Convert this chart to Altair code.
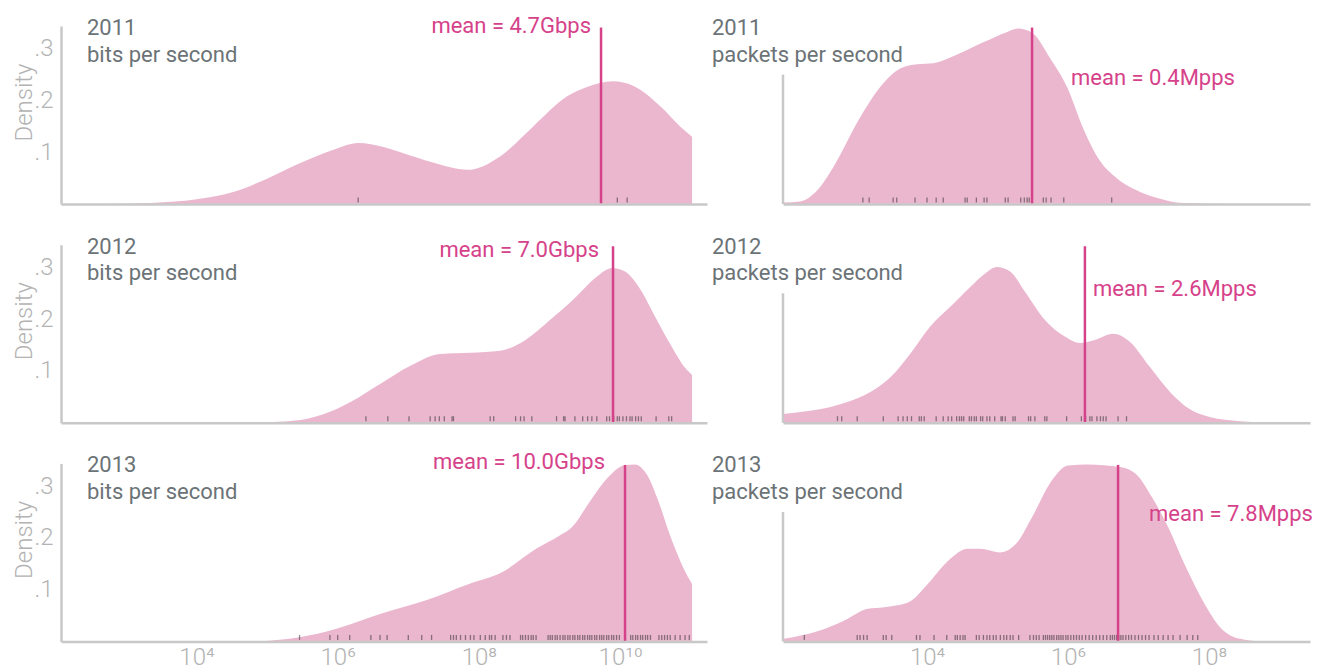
import altair as alt
import pandas as pd

# ---------------- data (x = log10 of rate, d = density) ----------------
years = ["2011", "2012", "2013"]
metric_names = ["bits per second", "packets per second"]
mean_text = [["mean = 4.7Gbps", "mean = 0.4Mpps"],
             ["mean = 7.0Gbps", "mean = 2.6Mpps"],
             ["mean = 10.0Gbps", "mean = 7.8Mpps"]]
mean_log = [[9.73, 5.49], [9.90, 6.24], [10.07, 6.71]]

bps2011_log = [2.64, 3.35, 4.05, 4.52, 5.00, 5.47, 5.94, 6.29, 6.65, 6.89, 7.35, 7.84, 8.30, 8.77, 9.25, 9.53, 9.90, 10.19, 10.57, 10.85, 11.02]
bps2011_dens = [0.000, 0.002, 0.010, 0.023, 0.049, 0.079, 0.105, 0.118, 0.110, 0.100, 0.080, 0.066, 0.092, 0.150, 0.208, 0.226, 0.237, 0.228, 0.189, 0.150, 0.130]

pps2011_log = [1.96, 2.20, 2.44, 2.67, 3.05, 3.33, 3.62, 3.86, 4.09, 4.33, 4.79, 5.13, 5.29, 5.50, 5.74, 5.99, 6.21, 6.45, 6.70, 6.92, 7.40, 7.63, 8.50]
pps2011_dens = [0.003, 0.005, 0.026, 0.071, 0.167, 0.225, 0.262, 0.270, 0.272, 0.283, 0.312, 0.332, 0.339, 0.330, 0.283, 0.225, 0.148, 0.084, 0.049, 0.030, 0.007, 0.002, 0.000]

bps2012_log = [4.64, 5.04, 5.47, 5.89, 6.18, 6.60, 7.03, 7.45, 7.88, 8.30, 8.66, 9.01, 9.36, 9.65, 9.89, 10.07, 10.29, 10.50, 10.71, 10.92, 11.02]
bps2012_dens = [0.000, 0.001, 0.005, 0.021, 0.040, 0.075, 0.110, 0.133, 0.135, 0.139, 0.160, 0.199, 0.241, 0.280, 0.299, 0.292, 0.257, 0.204, 0.152, 0.106, 0.092]

pps2012_log = [1.96, 2.34, 2.62, 2.87, 3.19, 3.48, 3.76, 4.04, 4.33, 4.61, 4.82, 4.99, 5.18, 5.39, 5.67, 5.96, 6.17, 6.38, 6.64, 6.88, 7.16, 7.45, 7.73, 8.01, 8.44, 8.87]
pps2012_dens = [0.017, 0.023, 0.030, 0.040, 0.059, 0.088, 0.133, 0.185, 0.224, 0.262, 0.288, 0.301, 0.292, 0.253, 0.199, 0.166, 0.154, 0.160, 0.172, 0.156, 0.108, 0.059, 0.026, 0.011, 0.003, 0.000]

bps2013_log = [4.89, 5.46, 5.97, 6.60, 7.24, 7.86, 8.32, 8.81, 9.14, 9.32, 9.58, 9.83, 10.07, 10.21, 10.39, 10.54, 10.71, 10.90, 11.02]
bps2013_dens = [0.000, 0.008, 0.024, 0.053, 0.079, 0.111, 0.133, 0.179, 0.204, 0.221, 0.272, 0.317, 0.341, 0.342, 0.320, 0.272, 0.204, 0.141, 0.111]

pps2013_log = [1.97, 2.48, 2.82, 3.16, 3.39, 3.73, 4.01, 4.30, 4.58, 4.75, 5.04, 5.26, 5.49, 5.77, 6.00, 6.28, 6.74, 6.96, 7.19, 7.42, 7.65, 7.94, 8.16, 8.44, 8.72]
pps2013_dens = [0.005, 0.021, 0.040, 0.063, 0.066, 0.075, 0.111, 0.156, 0.179, 0.179, 0.172, 0.188, 0.240, 0.311, 0.340, 0.342, 0.337, 0.324, 0.279, 0.221, 0.150, 0.072, 0.027, 0.005, 0.000]

rug_bps2011 = [6.29, 9.96, 10.10]
rug_pps2011 = [3.09, 3.18, 3.52, 3.57, 3.83, 4.00, 4.13, 4.23, 4.54, 4.57, 4.70, 4.81, 4.85, 5.11, 5.15,
               5.33, 5.38, 5.42, 5.45, 5.65, 5.69, 5.76, 5.94, 6.62]
rug_bps2012 = [6.40, 6.71, 7.01, 7.31, 7.38, 7.44, 7.51, 7.62, 7.64, 8.16, 8.21, 8.52, 8.59, 8.64, 8.75,
               9.10, 9.20, 9.22, 9.36, 9.47, 9.54, 9.60, 9.67, 9.81, 9.85, 9.91, 9.96, 9.99, 10.04,
               10.09, 10.14, 10.17, 10.22, 10.26, 10.30, 10.51, 10.69, 10.73]
rug_pps2012 = [2.73, 2.79, 3.01, 3.38, 3.59, 3.66, 3.72, 3.78, 3.89, 3.92, 3.96, 4.13, 4.23, 4.30, 4.35,
               4.42, 4.46, 4.49, 4.52, 4.60, 4.63, 4.67, 4.70, 4.76, 4.79, 4.85, 4.89, 4.96, 5.05, 5.07,
               5.11, 5.22, 5.25, 5.44, 5.47, 5.53, 5.67, 5.70, 5.98, 6.19, 6.25, 6.31, 6.34, 6.41, 6.46,
               6.50, 6.54, 6.71, 6.83]
rug_bps2013 = [5.46, 5.89, 6.00, 6.17, 6.47, 6.60, 6.70, 7.00, 7.19, 7.33, 7.60, 7.64, 7.68, 7.74, 7.81,
               7.88, 7.93, 8.02, 8.09, 8.15, 8.18, 8.23, 8.34, 8.39, 8.44, 8.59, 8.62, 8.66, 8.70, 8.74,
               8.77, 8.81, 8.98, 9.01, 9.04, 9.08, 9.11, 9.15, 9.19, 9.22, 9.26, 9.29, 9.33, 9.36, 9.40,
               9.43, 9.47, 9.50, 9.54, 9.57, 9.60, 9.64, 9.67, 9.71, 9.74, 9.77, 9.81, 9.84, 9.88, 9.91,
               9.95, 9.99, 10.15, 10.18, 10.22, 10.25, 10.29, 10.32, 10.36, 10.39, 10.43, 10.55, 10.59,
               10.63, 10.67, 10.71, 10.78, 10.85, 10.92, 10.98]
rug_pps2013 = [2.26, 3.01, 3.05, 3.10, 3.15, 3.38, 3.42, 3.50, 3.85, 3.90, 4.10, 4.28, 4.40, 4.43, 4.47,
               4.51, 4.54, 4.70, 4.74, 4.80, 4.85, 4.89, 4.94, 4.98, 5.04, 5.09, 5.13, 5.18, 5.22, 5.30,
               5.46, 5.51, 5.55, 5.59, 5.65, 5.68, 5.71, 5.74, 5.77, 5.80, 5.84, 5.87, 5.90, 5.93, 5.97,
               6.00, 6.04, 6.08, 6.12, 6.16, 6.20, 6.25, 6.30, 6.35, 6.40, 6.45, 6.50, 6.55, 6.60, 6.63,
               6.66, 6.69, 6.72, 6.75, 6.78, 6.82, 6.86, 6.90, 6.95, 7.00, 7.05, 7.10, 7.15, 7.22, 7.28,
               7.35, 7.42, 7.49, 7.59, 7.69, 7.77, 7.84]

x_tick_values = [4, 6, 8, 10]
x_tick_labels = ["10⁴", "10⁶", "10⁸", "10¹⁰"]
y_tick_values = [0.1, 0.2, 0.3]
y_tick_labels = [".1", ".2", ".3"]
bps_domain = [2.081, 11.231]
pps_domain = [1.957, 9.433]
density_domain = [0, 0.344]
mean_line_top = 0.341
pps_axis_top = 0.25

curves = [[(bps2011_log, bps2011_dens), (pps2011_log, pps2011_dens)],
          [(bps2012_log, bps2012_dens), (pps2012_log, pps2012_dens)],
          [(bps2013_log, bps2013_dens), (pps2013_log, pps2013_dens)]]
rugs = [[rug_bps2011, rug_pps2011], [rug_bps2012, rug_pps2012], [rug_bps2013, rug_pps2013]]

# ---------------- style ----------------
FONT = "Roboto"
AREA_C = "#ebb7cf"
MEAN_C = "#d6428a"
TITLE_C = "#6b7377"
AXIS_C = "#c8c8c8"
LABEL_C = "#b3b3b3"
W = [646, 527]
H = 178
mean_dx = [[-10, 39], [-14, 8], [-20, 31]]
mean_y = [[7, 59], [12, 51], [6, 58]]
title_x = [26, -71]


def label_expr(values, labels):
    expr = "''"
    for v, l in reversed(list(zip(values, labels))):
        expr = f"(abs(datum.value - {v}) < 0.001) ? '{l}' : ({expr})"
    return expr


def panel(r, c):
    xs, ds = curves[r][c]
    dom = bps_domain if c == 0 else pps_domain
    xvals = [v for v in x_tick_values if dom[0] <= v <= dom[1]]
    xlabs = [l for v, l in zip(x_tick_values, x_tick_labels) if dom[0] <= v <= dom[1]]
    bottom = r == 2
    xaxis = alt.Axis(values=xvals, labelExpr=label_expr(xvals, xlabs), labels=bottom,
                     ticks=False, tickSize=0, grid=False, domain=True, domainColor=AXIS_C,
                     domainWidth=2.5, title=None, labelFont=FONT, labelFontSize=24,
                     labelFontWeight=300, labelColor=LABEL_C, labelPadding=4, zindex=1)
    if c == 0:
        yaxis = alt.Axis(values=y_tick_values, labelExpr=label_expr(y_tick_values, y_tick_labels),
                         ticks=False, tickSize=0, grid=False, domain=True, domainColor=AXIS_C,
                         domainWidth=2.5, title="Density", titleFont=FONT, titleFontSize=24,
                         titleFontWeight=300, titleColor=LABEL_C, titleX=-30, titleY=76,
                         titleBaseline="alphabetic", titleAngle=270, labelFont=FONT,
                         labelFontSize=24, labelFontWeight=300, labelColor=LABEL_C,
                         labelPadding=8, zindex=1)
    else:
        yaxis = None
    xenc = alt.X("x:Q", scale=alt.Scale(domain=dom, nice=False, zero=False), axis=xaxis)
    yenc = alt.Y("d:Q", scale=alt.Scale(domain=density_domain, nice=False), axis=yaxis)

    area = alt.Chart(pd.DataFrame({"x": xs, "d": ds})).mark_area(
        color=AREA_C, interpolate="monotone", opacity=1).encode(x=xenc, y=yenc)

    rug = alt.Chart(pd.DataFrame({"x": rugs[r][c]})).mark_rule(
        color="#222222", opacity=0.5, strokeWidth=1.3).encode(
        x=xenc, y=alt.value(H - 6.5), y2=alt.value(H - 1.5))

    mean_df = pd.DataFrame({"x": [mean_log[r][c]], "d": [0.0], "d2": [mean_line_top],
                            "label": [mean_text[r][c]]})
    mrule = alt.Chart(mean_df).mark_rule(color=MEAN_C, strokeWidth=2.5).encode(
        x=xenc, y=yenc, y2="d2:Q")
    mtext = alt.Chart(mean_df).mark_text(
        align="right" if c == 0 else "left", baseline="alphabetic", dx=mean_dx[r][c],
        font=FONT, fontSize=22, color=MEAN_C).encode(
        x=xenc, y=alt.value(mean_y[r][c]), text="label:N")

    tdf = pd.DataFrame({"year": [years[r]], "metric": [metric_names[c]]})
    t1 = alt.Chart(tdf).mark_text(align="left", baseline="alphabetic", font=FONT,
                                  fontSize=22, color=TITLE_C).encode(
        x=alt.value(title_x[c]), y=alt.value(9), text="year:N")
    t2 = alt.Chart(tdf).mark_text(align="left", baseline="alphabetic", font=FONT,
                                  fontSize=22, color=TITLE_C).encode(
        x=alt.value(title_x[c]), y=alt.value(35.5), text="metric:N")

    layers = [area, rug]
    if c == 1:
        ax_df = pd.DataFrame({"x": [dom[0]], "d": [0.0], "d2": [pps_axis_top]})
        yrule = alt.Chart(ax_df).mark_rule(color=AXIS_C, strokeWidth=2.5).encode(
            x=alt.value(0), y=yenc, y2="d2:Q")
        layers.append(yrule)
    layers += [mrule, mtext, t1, t2]
    return alt.layer(*layers).properties(width=W[c], height=H)


panels = [panel(r, c) for r in range(3) for c in range(2)]
chart = alt.concat(*panels, columns=2, spacing={"row": 40.7, "column": 76},
                   bounds="flush", align="each").properties(
    padding={"left": 4, "top": 7, "right": 0, "bottom": 0}
).configure(background="white").configure_view(strokeWidth=0, stroke=None)

chart.save("out.html", embed_options={"renderer": "svg", "actions": False})
